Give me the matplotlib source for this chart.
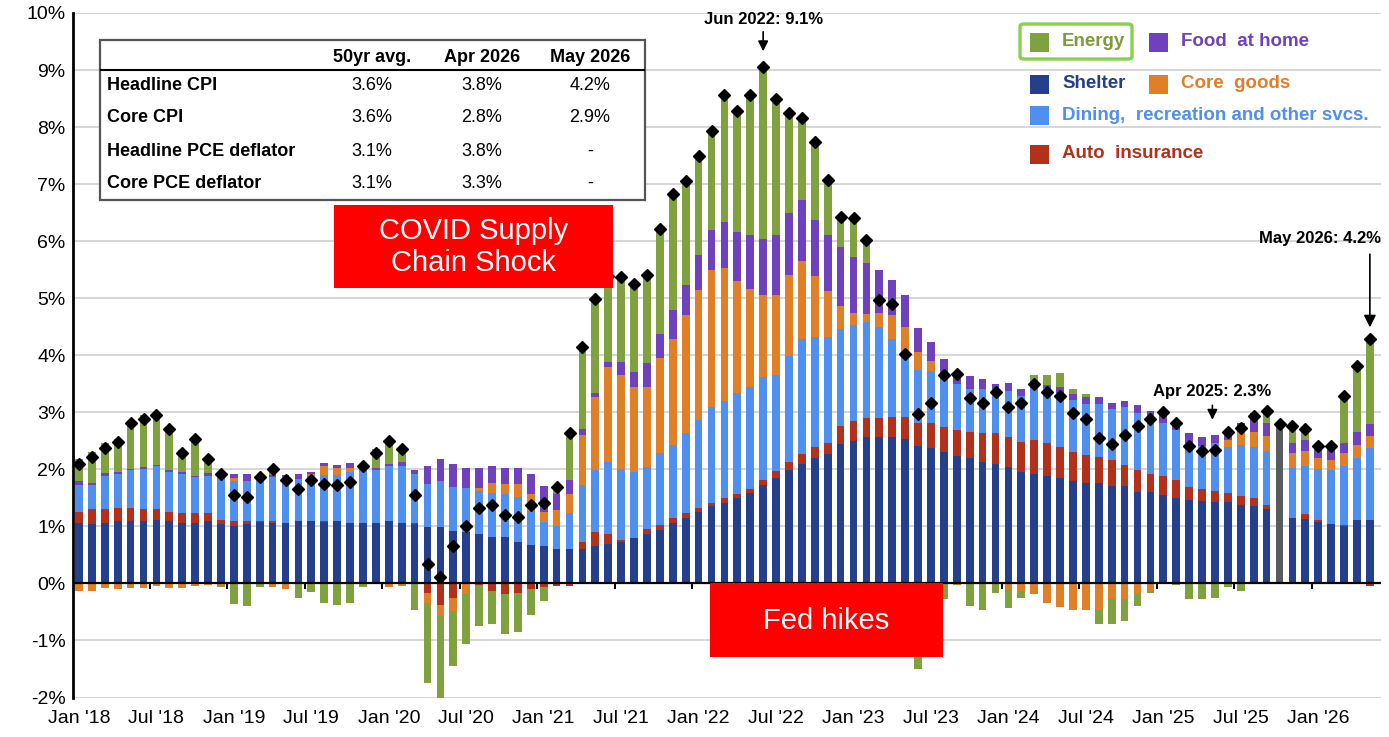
import numpy as np
import pandas as pd
import matplotlib
matplotlib.use("Agg")
import matplotlib.pyplot as plt
from matplotlib.patches import Rectangle, FancyBboxPatch
from matplotlib.lines import Line2D

plt.rcParams['font.family'] = ['Liberation Sans', 'DejaVu Sans']

# ---------------- data ----------------
months = pd.date_range('2018-01-01', '2026-05-01', freq='MS')
nan = np.nan

shelter = [1.06,1.04,1.06,1.10,1.10,1.10,1.12,1.10,1.06,1.06,1.10,1.04,
           1.01,1.04,1.08,1.06,1.06,1.10,1.10,1.08,1.10,1.06,1.06,1.06,
           1.10,1.06,1.04,0.99,0.99,0.92,0.90,0.87,0.81,0.81,0.72,0.68,
           0.65,0.60,0.60,0.60,0.65,0.69,0.72,0.79,0.87,0.94,1.06,1.15,
           1.26,1.35,1.41,1.50,1.58,1.73,1.84,1.99,2.10,2.19,2.27,2.44,
           2.50,2.56,2.56,2.56,2.53,2.41,2.38,2.30,2.24,2.19,2.13,2.10,
           2.04,1.96,1.92,1.88,1.85,1.79,1.76,1.76,1.70,1.70,1.61,1.61,
           1.55,1.50,1.47,1.44,1.42,1.42,1.38,1.35,1.30,nan,1.15,1.13,
           1.08,1.05,1.01,1.11,1.11]
auto_insurance = [0.20,0.26,0.24,0.23,0.23,0.20,0.18,0.16,0.18,0.18,0.14,0.08,
                  0.09,0.06,0.02,0.04,0.00,0.00,0.00,0.02,0.00,0.00,0.00,0.00,
                  0.00,0.00,0.02,-0.16,-0.38,-0.25,0.00,-0.02,-0.13,-0.19,-0.16,-0.10,
                  -0.07,-0.04,-0.04,0.12,0.25,0.18,0.04,0.00,0.09,0.09,0.09,0.09,
                  0.07,0.06,0.09,0.06,0.08,0.09,0.13,0.13,0.17,0.20,0.19,0.32,
                  0.35,0.34,0.34,0.36,0.39,0.40,0.43,0.45,0.45,0.47,0.50,0.53,
                  0.53,0.52,0.59,0.59,0.54,0.52,0.49,0.46,0.46,0.38,0.38,0.31,
                  0.33,0.31,0.22,0.21,0.20,0.16,0.16,0.15,0.08,nan,0.00,0.08,
                  0.03,0.00,0.02,0.00,-0.05]
dining_other_svcs = [0.46,0.42,0.59,0.59,0.65,0.70,0.75,0.69,0.68,0.63,0.65,0.74,
                     0.69,0.70,0.71,0.76,0.81,0.73,0.80,0.80,0.80,0.90,0.93,0.92,
                     0.95,1.00,0.86,0.75,0.81,0.77,0.78,0.75,0.78,0.75,0.79,0.59,
                     0.42,0.41,0.64,1.01,1.09,1.26,1.25,1.17,1.08,1.25,1.27,1.39,
                     1.54,1.68,1.70,1.78,1.78,1.79,1.68,1.87,2.02,1.93,1.86,1.70,
                     1.68,1.68,1.60,1.37,1.11,0.94,0.91,0.84,0.81,0.75,0.78,0.78,
                     0.81,0.81,0.91,0.95,0.95,0.90,0.90,0.93,0.90,1.01,0.99,1.03,
                     0.93,0.88,0.77,0.76,0.84,0.82,0.89,0.90,0.94,nan,0.88,0.84,
                     0.89,0.93,1.03,1.08,1.26]
core_goods = [-0.13,-0.13,-0.08,-0.10,-0.08,-0.08,-0.05,-0.08,-0.08,-0.05,-0.02,-0.02,
              0.05,0.00,0.00,-0.07,-0.10,0.00,0.02,0.15,0.13,0.07,0.00,0.00,
              -0.07,-0.05,0.00,-0.18,-0.19,-0.23,-0.19,0.06,0.17,0.18,0.23,0.29,
              0.18,0.27,0.32,0.87,1.27,1.67,1.64,1.49,1.41,1.67,1.87,2.07,
              2.28,2.41,2.33,1.97,1.72,1.45,1.41,1.42,1.37,1.07,0.81,0.41,
              0.21,0.14,0.24,0.41,0.47,0.31,0.18,0.06,-0.02,0.00,0.00,0.00,
              -0.11,-0.14,-0.19,-0.34,-0.41,-0.46,-0.46,-0.46,-0.28,-0.28,-0.18,-0.14,
              0.00,0.00,0.00,0.00,0.00,0.12,0.22,0.26,0.26,nan,0.26,0.27,
              0.19,0.18,0.22,0.24,0.21]
food_at_home = [0.07,0.04,0.04,0.04,0.03,0.04,0.03,0.04,0.04,0.02,0.04,0.02,
                0.07,0.11,0.06,0.04,0.03,0.08,0.04,0.06,0.05,0.08,0.07,0.04,
                0.04,0.07,0.07,0.31,0.38,0.40,0.35,0.35,0.30,0.29,0.29,0.35,
                0.45,0.28,0.25,0.10,0.07,0.09,0.24,0.26,0.41,0.42,0.51,0.54,
                0.60,0.69,0.80,0.85,0.94,0.97,1.04,1.09,1.06,0.98,0.97,1.02,
                0.99,0.89,0.76,0.62,0.55,0.41,0.34,0.29,0.13,0.22,0.17,0.08,
                0.14,0.12,0.12,0.06,0.10,0.11,0.11,0.11,0.11,0.11,0.14,0.08,
                0.17,0.15,0.18,0.15,0.15,0.17,0.16,0.33,0.24,nan,0.17,0.20,
                0.21,0.21,0.18,0.23,0.22]
energy = [0.39,0.55,0.53,0.58,0.84,0.91,0.91,0.76,0.38,0.65,0.23,-0.05,
          -0.36,-0.39,-0.07,0.07,0.00,-0.26,-0.15,-0.35,-0.38,-0.35,-0.07,0.33,
          0.40,0.18,-0.47,-1.41,-1.49,-0.97,-0.87,-0.72,-0.58,-0.69,-0.69,-0.46,
          -0.24,0.17,0.83,1.45,1.66,1.50,1.48,1.54,1.54,1.85,2.03,1.82,
          1.75,1.74,2.23,2.12,2.46,3.03,2.40,1.75,1.44,1.37,0.98,0.53,
          0.67,0.41,-0.53,-0.42,-1.02,-1.50,-1.08,-0.28,0.05,-0.39,-0.46,-0.16,
          -0.32,-0.11,0.12,0.18,0.25,0.09,0.06,-0.26,-0.44,-0.38,-0.22,-0.02,
          0.03,-0.02,-0.28,-0.28,-0.25,-0.07,-0.13,0.00,0.20,nan,0.32,0.17,
          0.00,0.00,0.82,1.16,1.48]
headline_cpi = [2.10,2.22,2.38,2.48,2.82,2.88,2.96,2.71,2.29,2.53,2.18,1.92,
                1.55,1.52,1.86,2.00,1.81,1.66,1.81,1.75,1.72,1.77,2.06,2.29,
                2.50,2.35,1.55,0.34,0.11,0.65,1.00,1.32,1.37,1.20,1.17,1.37,
                1.41,1.69,2.63,4.15,4.99,5.39,5.37,5.25,5.40,6.22,6.83,7.06,
                7.50,7.93,8.56,8.28,8.56,9.06,8.50,8.25,8.16,7.74,7.08,6.42,
                6.40,6.02,4.97,4.90,4.03,2.97,3.16,3.66,3.68,3.25,3.16,3.36,
                3.10,3.16,3.50,3.35,3.28,2.98,2.89,2.55,2.44,2.61,2.76,2.89,
                3.01,2.82,2.41,2.32,2.34,2.66,2.72,2.94,3.02,2.79,2.76,2.71,
                2.41,2.41,3.28,3.82,4.29]

# Oct 2025: no component breakdown (shown as a single grey bar)
missing_month = '2025-10-01'
missing_total = 2.78

tick_labels = ["Jan '18", "Jul '18", "Jan '19", "Jul '19", "Jan '20", "Jul '20",
               "Jan '21", "Jul '21", "Jan '22", "Jul '22", "Jan '23", "Jul '23",
               "Jan '24", "Jul '24", "Jan '25", "Jul '25", "Jan '26"]

table_rows = ["Headline CPI", "Core CPI", "Headline PCE deflator", "Core PCE deflator"]
table_cols = ["50yr avg.", "Apr 2026", "May 2026"]
avg_50yr = ["3.6%", "3.6%", "3.1%", "3.1%"]
apr_2026 = ["3.8%", "2.8%", "3.8%", "3.3%"]
may_2026 = ["4.2%", "2.9%", "-", "-"]

# ---------------- style ----------------
C_SHELTER = '#243F8C'
C_AUTO = '#B3301A'
C_DINING = '#4F8FF0'
C_CORE = '#E07F26'
C_FOOD = '#7041BE'
C_ENERGY = '#7FA23F'
C_GREY = '#575C5F'

W, H = 1389, 737
fig = plt.figure(figsize=(W / 100, H / 100), dpi=100)
ax = fig.add_axes([72.5 / W, 1 - 697.5 / H, 1309 / W, (697.5 - 13) / H])

def fx(p):
    return p / W

def fy(p):
    return 1 - p / H

n = len(months)
x = np.arange(n)
components = [(shelter, C_SHELTER), (auto_insurance, C_AUTO), (dining_other_svcs, C_DINING),
              (core_goods, C_CORE), (food_at_home, C_FOOD), (energy, C_ENERGY)]
pos_base = np.zeros(n)
neg_base = np.zeros(n)
bw = 0.6
for vals, col in components:
    v = np.nan_to_num(np.asarray(vals, dtype=float))
    bottom = np.where(v >= 0, pos_base, neg_base)
    ax.bar(x, v, bottom=bottom, width=bw, color=col, zorder=2, linewidth=0)
    pos_base += np.clip(v, 0, None)
    neg_base += np.clip(v, None, 0)

mi = months.get_loc(pd.Timestamp(missing_month))
ax.bar(mi, missing_total, width=bw, color=C_GREY, zorder=2, linewidth=0)

ax.plot(x, headline_cpi, linestyle='none', marker='D', color='black', markersize=6.0, zorder=5)

ax.set_xlim(-0.5, 100.9)
ax.set_ylim(-2, 10)
ax.set_yticks(range(-2, 11))
ax.set_yticklabels([f"{v}%" for v in range(-2, 11)], fontsize=14)
ax.set_xticks(x[::6])
ax.set_xticklabels(tick_labels, fontsize=14)
ax.tick_params(axis='both', length=0)
ax.tick_params(axis='x', pad=9)
ax.tick_params(axis='y', pad=5)
ax.yaxis.grid(True, color='#d3d3d3', linewidth=1.3, zorder=0)
ax.set_axisbelow(True)
for s in ['top', 'right', 'bottom']:
    ax.spines[s].set_visible(False)
ax.spines['left'].set_linewidth(2)
ax.axhline(0, color='black', linewidth=1.6, zorder=3)
ax.vlines(np.arange(5.5, n, 6), -0.09, 0, color='black', linewidth=1.4, zorder=3)

# annotations
pk = int(np.argmax(headline_cpi))
ax.annotate('', xy=(pk, headline_cpi[pk] + 0.22), xytext=(pk, 9.72),
            arrowprops=dict(arrowstyle='-|>', color='black', lw=1.2, mutation_scale=15), zorder=6)
ax.text(pk, 9.88, "Jun 2022: 9.1%", ha='center', va='center', fontsize=12, fontweight='bold')

last = n - 1
ax.annotate('', xy=(last, headline_cpi[last] + 0.15), xytext=(last, 5.82),
            arrowprops=dict(arrowstyle='-|>', color='black', lw=1.2, mutation_scale=18), zorder=6)
ax.text(last - 3.9, 6.04, "May 2026: 4.2%", ha='center', va='center', fontsize=12, fontweight='bold')

ai = months.get_loc(pd.Timestamp('2025-04-01'))
ax.annotate('', xy=(ai + 0.8, headline_cpi[ai] + 0.5), xytext=(ai + 0.8, 3.17),
            arrowprops=dict(arrowstyle='-|>', color='black', lw=1.2, mutation_scale=15), zorder=6)
ax.text(ai + 0.8, 3.36, "Apr 2025: 2.3%", ha='center', va='center', fontsize=12, fontweight='bold')

# ---------------- table ----------------
fig.add_artist(Rectangle((fx(100), fy(200)), fx(545), 160 / H, transform=fig.transFigure,
                         facecolor='white', edgecolor='#555555', linewidth=1.6, zorder=5))
fig.add_artist(Line2D([fx(101), fx(644)], [fy(70), fy(70)], transform=fig.transFigure,
                      color='black', linewidth=1.5, zorder=6))
col_x = [372, 482, 590]
for cx, lab in zip(col_x, table_cols):
    fig.text(fx(cx), fy(57), lab, ha='center', va='center', fontsize=13, fontweight='bold', zorder=7)
row_y = [86, 118, 151, 183]
for ry, lab, a, b, c in zip(row_y, table_rows, avg_50yr, apr_2026, may_2026):
    fig.text(fx(107), fy(ry), lab, ha='left', va='center', fontsize=13, fontweight='bold', zorder=7)
    for cx, val in zip(col_x, [a, b, c]):
        fig.text(fx(cx), fy(ry), val, ha='center', va='center', fontsize=13, zorder=7)

# ---------------- red boxes ----------------
fig.add_artist(Rectangle((fx(334), fy(288)), fx(279), 83 / H, transform=fig.transFigure,
                         facecolor='#FF0000', edgecolor='none', zorder=5))
fig.text(fx(473.5), fy(247), "COVID Supply\nChain Shock", ha='center', va='center',
         color='white', fontsize=21, linespacing=1.15, zorder=7)
fig.add_artist(Rectangle((fx(710), fy(657)), fx(233), 74 / H, transform=fig.transFigure,
                         facecolor='#FF0000', edgecolor='none', zorder=5))
fig.text(fx(826.5), fy(621), "Fed hikes", ha='center', va='center',
         color='white', fontsize=21, zorder=7)

# ---------------- legend ----------------
fig.add_artist(FancyBboxPatch((fx(1020), fy(59)), fx(112), 35 / H, transform=fig.transFigure,
                              boxstyle='round,pad=0,rounding_size=0.003',
                              facecolor='none', edgecolor='#86D14E', linewidth=2.4, zorder=6))
legend_items = [("Energy", C_ENERGY, '#7C9C3C', 1030, 1062, 42),
                ("Food  at home", C_FOOD, C_FOOD, 1149, 1181, 42),
                ("Shelter", C_SHELTER, C_SHELTER, 1030, 1062, 84),
                ("Core  goods", C_CORE, C_CORE, 1149, 1181, 84),
                ("Dining,  recreation and other svcs.", C_DINING, C_DINING, 1030, 1062, 115),
                ("Auto  insurance", C_AUTO, C_AUTO, 1030, 1062, 154)]
for lab, col, tcol, sx, tx, ty in legend_items:
    fig.add_artist(Rectangle((fx(sx), fy(ty + 9.5)), fx(19), 19 / H, transform=fig.transFigure,
                             facecolor=col, edgecolor='none', zorder=6))
    fig.text(fx(tx), fy(ty), lab, ha='left', va='center', fontsize=13.5, fontweight='bold',
             color=tcol, zorder=7)

fig.savefig('out.png', dpi=100)
